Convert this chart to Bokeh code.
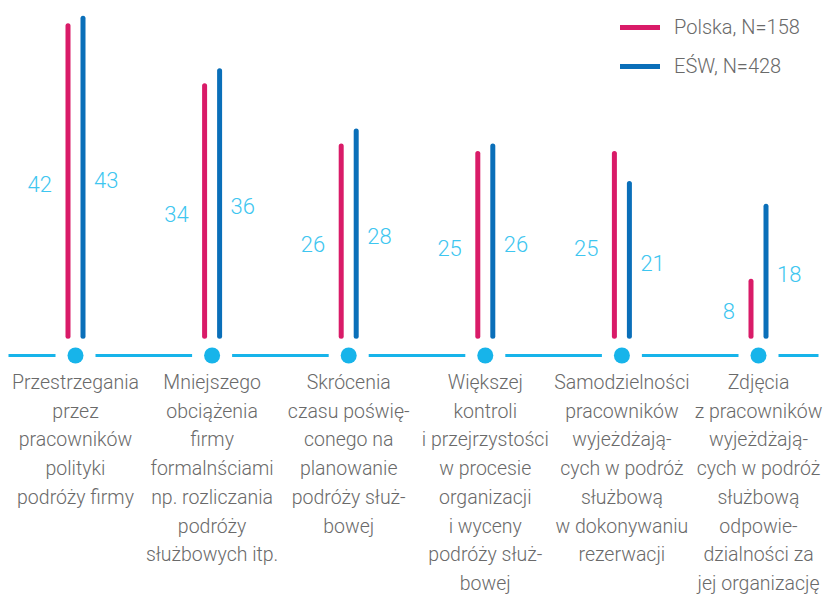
from bokeh.plotting import figure
from bokeh.models import ColumnDataSource, Legend, LegendItem, Range1d
from bokeh.core.properties import value
from bokeh.embed import file_html
from bokeh.resources import INLINE

categories = [
    ["Przestrzegania", "przez", "pracowników", "polityki", "podróży firmy"],
    ["Mniejszego", "obciążenia", "firmy", "formalnściami", "np. rozliczania", "podróży", "służbowych itp."],
    ["Skrócenia", "czasu poświę-", "conego na", "planowanie", "podróży służ-", "bowej"],
    ["Większej", "kontroli", "i przejrzystości", "w procesie", "organizacji", "i wyceny", "podróży służ-", "bowej"],
    ["Samodzielności", "pracowników", "wyjeżdżają-", "cych w podróż", "służbową", "w dokonywaniu", "rezerwacji"],
    ["Zdjęcia", "z pracowników", "wyjeżdżają-", "cych w podróż", "służbową", "odpowie-", "dzialności za", "jej organizację"],
]
polska = [42, 34, 26, 25, 25, 8]
esw = [43, 36, 28, 26, 21, 18]
series_names = ["Polska, N=158", "EŚW, N=428"]

PINK = "#d91b68"
BLUE = "#0a6fb9"
CYAN = "#17b4ea"
NUM = "#3ec6f0"
GRAY = "#6a6a6a"
FONT_NUM = "Roboto Light"
FONT_LAB = "Roboto Light"
FONT_LEG = "Roboto Light"

W, H = 824, 596
PX_X = 136.6
PX_Y = 7.52
x0_px = 75
zero_px = 341
bar_base = 0.7
dx = 7.5 / PX_X
gap = 20 / PX_X
base_y = -14 / PX_Y
lab_y = -41 / PX_Y
line_step = 28.7

xs = list(range(len(polska)))
x_start = -x0_px / PX_X
x_end = (W - x0_px) / PX_X

p = figure(width=W, height=H,
           x_range=Range1d(x_start, x_end),
           y_range=Range1d(-(H - zero_px) / PX_Y, zero_px / PX_Y),
           output_backend="svg", toolbar_location=None, min_border=0,
           x_axis_type=None, y_axis_type=None)
p.grid.visible = False
p.outline_line_color = None
p.background_fill_color = "white"

# baseline with gaps around dots
seg_x0 = [x_start + 8 / PX_X] + [i + gap for i in xs]
seg_x1 = [i - gap for i in xs] + [x_end - 6 / PX_X]
p.segment(x0=seg_x0, y0=[base_y] * len(seg_x0), x1=seg_x1, y1=[base_y] * len(seg_x1),
          line_color=CYAN, line_width=3)
p.scatter(x=xs, y=[base_y] * len(xs), size=16, color=CYAN, line_color=None)

src_p = ColumnDataSource(dict(x=[i - dx for i in xs], y0=[bar_base] * len(xs), y1=polska,
                              ym=[v / 2 for v in polska], t=[str(v) for v in polska]))
src_e = ColumnDataSource(dict(x=[i + dx for i in xs], y0=[bar_base] * len(xs), y1=esw,
                              ym=[v / 2 for v in esw], t=[str(v) for v in esw]))

rp = p.segment(x0="x", y0="y0", x1="x", y1="y1", source=src_p, line_color=PINK,
               line_width=5, line_cap="round")
re = p.segment(x0="x", y0="y0", x1="x", y1="y1", source=src_e, line_color=BLUE,
               line_width=5, line_cap="round")

p.text(x="x", y="ym", text="t", source=src_p, x_offset=-16, text_align="right",
       text_baseline="middle", text_color=NUM, text_font=value(FONT_NUM), text_font_size="22px")
p.text(x="x", y="ym", text="t", source=src_e, x_offset=11, text_align="left",
       text_baseline="middle", text_color=NUM, text_font=value(FONT_NUM), text_font_size="22px")

# category labels
cx, cy, ct, coff = [], [], [], []
for i, lines in enumerate(categories):
    for j, ln in enumerate(lines):
        cx.append(i)
        cy.append(lab_y)
        ct.append(ln)
        coff.append(j * line_step)
src_c = ColumnDataSource(dict(x=cx, y=cy, t=ct, off=coff))
p.text(x="x", y="y", text="t", y_offset="off", source=src_c, text_align="center",
       text_baseline="middle", text_color=GRAY, text_font=value(FONT_LAB), text_font_size="19.5px")

legend = Legend(items=[LegendItem(label=series_names[0], renderers=[rp]),
                       LegendItem(label=series_names[1], renderers=[re])],
                location=(620, 518), glyph_width=40, glyph_height=20, label_height=20,
                spacing=15, label_standoff=14, padding=0, margin=0,
                border_line_color=None, background_fill_alpha=0,
                label_text_font=FONT_LEG, label_text_font_size="20px", label_text_color=GRAY)
p.add_layout(legend, "center")

open("out.html", "w").write(file_html(p, INLINE))
